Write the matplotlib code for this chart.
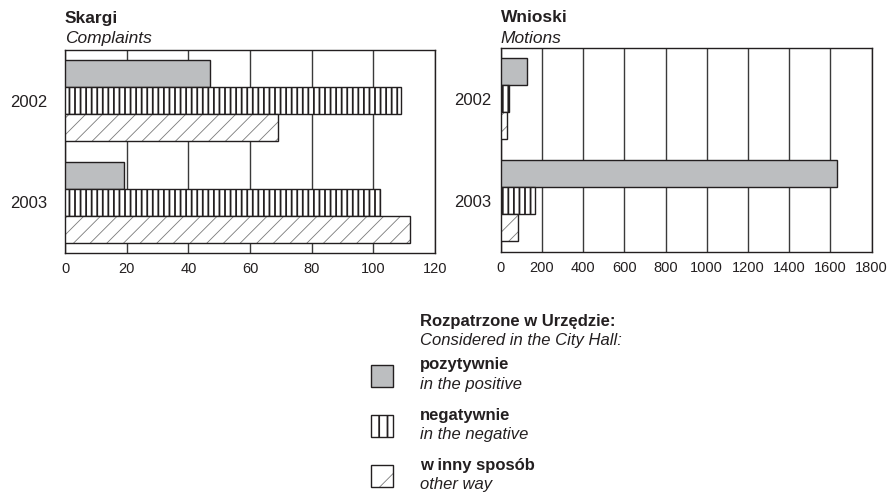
import matplotlib
matplotlib.use("Agg")
import matplotlib.pyplot as plt
from matplotlib.patches import Rectangle
import numpy as np

plt.rcParams['font.family'] = ['Liberation Sans', 'DejaVu Sans']

years = ['2002', '2003']
complaints_positive = [47, 19]
complaints_negative = [109, 102]
complaints_other = [69, 112]
motions_positive = [130, 1630]
motions_negative = [40, 165]
motions_other = [30, 85]

left_ticks = [0, 20, 40, 60, 80, 100, 120]
right_ticks = [0, 200, 400, 600, 800, 1000, 1200, 1400, 1600, 1800]

DARK = '#231f20'
GRAY = '#bcbec0'
HATCH_GRAY = '#7a7a7a'

W, H = 890, 493
fig = plt.figure(figsize=(W / 100, H / 100), dpi=100)


def fx(px):
    return px / W


def fy(py):
    return 1 - py / H


def set_hlw(patch, lw):
    try:
        patch.set_hatch_linewidth(lw)
    except Exception:
        pass


def draw_panel(ax, pos, neg, oth, ticks, ypad):
    y = np.arange(len(years))
    h = 0.265
    ax.set_axisbelow(True)
    ax.barh(y - h, pos, height=h, color=GRAY, edgecolor=DARK, linewidth=1, zorder=3)
    bn = ax.barh(y, neg, height=h, color='white', edgecolor=DARK, linewidth=1,
                 hatch='|||', zorder=3)
    for p in bn:
        set_hlw(p, 1.3)
    bo = ax.barh(y + h, oth, height=h, color='white', edgecolor=HATCH_GRAY,
                 linewidth=0, hatch='//', zorder=3)
    for p in bo:
        set_hlw(p, 0.6)
    ax.barh(y + h, oth, height=h, fill=False, edgecolor=DARK, linewidth=1, zorder=4)
    ax.set_ylim(1.5, -0.5)
    ax.set_xlim(ticks[0], ticks[-1])
    ax.set_xticks(ticks)
    ax.set_xticklabels([str(t) for t in ticks])
    ax.set_yticks(y)
    ax.set_yticklabels(years)
    ax.tick_params(axis='x', length=0, pad=6.5, labelsize=10.5, labelcolor=DARK)
    ax.tick_params(axis='y', length=0, pad=ypad, labelsize=12, labelcolor=DARK)
    ax.grid(axis='x', color='#3a3a3a', linewidth=1)
    for s in ax.spines.values():
        s.set_color(DARK)
        s.set_linewidth(1)


ax1 = fig.add_axes([fx(65), fy(253.3), fx(370), 203.3 / H])
draw_panel(ax1, complaints_positive, complaints_negative, complaints_other, left_ticks, 13)

ax2 = fig.add_axes([fx(500.7), fy(251.7), fx(371), 204 / H])
draw_panel(ax2, motions_positive, motions_negative, motions_other, right_ticks, 6.5)

# titles
fig.text(fx(65), fy(22.5), 'Skargi', fontsize=12.5, fontweight='bold', color=DARK, va='baseline')
fig.text(fx(65), fy(42.5), 'Complaints', fontsize=12.5, style='italic', color=DARK, va='baseline')
fig.text(fx(500.7), fy(22), 'Wnioski', fontsize=12.5, fontweight='bold', color=DARK, va='baseline')
fig.text(fx(500.7), fy(43), 'Motions', fontsize=12.5, style='italic', color=DARK, va='baseline')

# legend
LFS = 12
tx = fx(420)
fig.text(tx, fy(326), 'Rozpatrzone w Urzędzie:', fontsize=LFS, fontweight='bold', color=DARK, va='baseline')
fig.text(tx, fy(345), 'Considered in the City Hall:', fontsize=LFS, style='italic', color=DARK, va='baseline')

legend_items = [
    ('pozytywnie', 'in the positive', 365, 369, 389),
    ('negatywnie', 'in the negative', 415, 420, 439),
    ('w inny sposób', 'other way', 465, 470, 488.5),
]
for i, (pl, en, top, b1, b2) in enumerate(legend_items):
    rx, rw, rh = 370.5, 22, 22
    if i == 0:
        r = Rectangle((fx(rx), fy(top + rh)), fx(rw), rh / H, transform=fig.transFigure,
                      facecolor=GRAY, edgecolor=DARK, linewidth=1)
        fig.add_artist(r)
    elif i == 1:
        r = Rectangle((fx(rx), fy(top + rh)), fx(rw), rh / H, transform=fig.transFigure,
                      facecolor='white', edgecolor=DARK, linewidth=1, hatch='||')
        set_hlw(r, 1.3)
        fig.add_artist(r)
    else:
        r = Rectangle((fx(rx), fy(top + rh)), fx(rw), rh / H, transform=fig.transFigure,
                      facecolor='white', edgecolor=HATCH_GRAY, linewidth=0, hatch='/')
        set_hlw(r, 0.6)
        fig.add_artist(r)
        r2 = Rectangle((fx(rx), fy(top + rh)), fx(rw), rh / H, transform=fig.transFigure,
                       fill=False, edgecolor=DARK, linewidth=1)
        fig.add_artist(r2)
    fig.text(tx, fy(b1), pl, fontsize=LFS, fontweight='bold', color=DARK, va='baseline')
    fig.text(tx, fy(b2), en, fontsize=LFS, style='italic', color=DARK, va='baseline')

fig.savefig('out.png', dpi=100)
